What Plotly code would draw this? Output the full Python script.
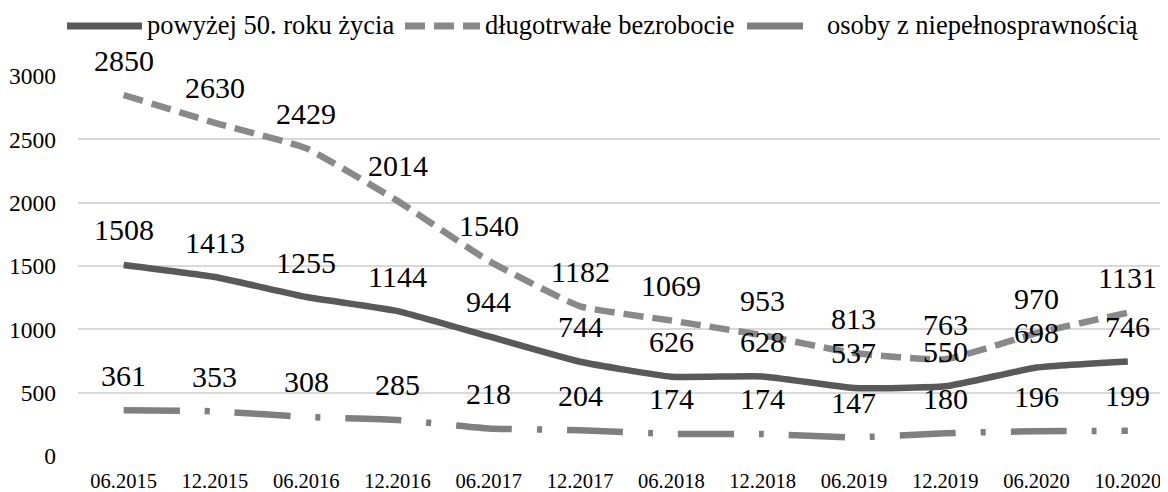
import plotly.graph_objects as go

categories = ["06.2015", "12.2015", "06.2016", "12.2016", "06.2017", "12.2017",
              "06.2018", "12.2018", "06.2019", "12.2019", "06.2020", "10.2020"]
over50 = [1508, 1413, 1255, 1144, 944, 744, 626, 628, 537, 550, 698, 746]
longterm = [2850, 2630, 2429, 2014, 1540, 1182, 1069, 953, 813, 763, 970, 1131]
disabled = [361, 353, 308, 285, 218, 204, 174, 174, 147, 180, 196, 199]

series_names = ["powyżej 50. roku życia", "długotrwałe bezrobocie", "osoby z niepełnosprawnością"]
colors = ["#595959", "#898989", "#7f7f7f"]
dashes = ["solid", "20px,9px", "56px,25px,5px,25px"]
FONT = "Liberation Serif, Times New Roman, serif"

W, H = 1160, 484
ML, MR, MT, MB = 70, 0, 68, 36
PW, PH = W - ML - MR, H - MT - MB


def px_x(x):
    return (x - ML) / PW


def px_y(y):
    return 1 - (y - MT) / PH


fig = go.Figure()
for name, ys, col, dsh in zip(series_names, (over50, longterm, disabled), colors, dashes):
    fig.add_trace(go.Scatter(x=list(range(len(categories))), y=ys, name=name, mode="lines",
                             showlegend=False,
                             line=dict(color=col, width=6.5, dash=dsh, shape="spline", smoothing=0.4)))
    for i, v in enumerate(ys):
        fig.add_annotation(x=i, y=v, text=str(v), showarrow=False, yshift=35,
                           font=dict(family=FONT, size=30, color="black"))

# custom legend (long symbols as in the reference)
legend_items = [(59, 134, 137), (397, 472, 475), (739, 797, 817)]
for (x0, x1, tx), name, col, dsh in zip(legend_items, series_names, colors, dashes):
    fig.add_shape(type="line", xref="paper", yref="paper", x0=px_x(x0), x1=px_x(x1),
                  y0=px_y(18), y1=px_y(18), line=dict(color=col, width=7, dash=dsh))
    fig.add_annotation(xref="paper", yref="paper", x=px_x(tx), y=px_y(17), text=name,
                       showarrow=False, xanchor="left", yanchor="middle",
                       font=dict(family=FONT, size=26.5, color="black"))

fig.update_layout(
    width=W, height=H,
    margin=dict(l=ML, r=MR, t=MT, b=MB, autoexpand=False),
    paper_bgcolor="white", plot_bgcolor="white",
    font=dict(family=FONT, color="black"),
    showlegend=False,
    xaxis=dict(range=[-0.5, 11.44], tickvals=list(range(len(categories))), ticktext=categories,
               showgrid=False, showline=False, zeroline=False, ticks="", automargin=False,
               tickfont=dict(family=FONT, size=20.5, color="black"), ticklabelstandoff=10),
    yaxis=dict(range=[0, 3000], tickvals=[0, 500, 1000, 1500, 2000, 2500, 3000],
               showgrid=True, gridcolor="#d9d9d9", gridwidth=1.5, zeroline=False, automargin=False,
               tickfont=dict(family=FONT, size=23.5, color="black"), ticks="",
               ticklabelstandoff=21),
)
fig.write_html("out.html")
